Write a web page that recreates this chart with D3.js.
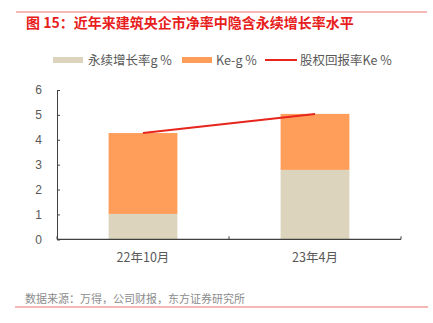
<!DOCTYPE html>
<html><head><meta charset="utf-8">
<script src="https://cdn.jsdelivr.net/npm/d3@7"></script>
<style>body{margin:0;background:#fff;}svg{display:block;font-family:"Liberation Sans","Noto Sans CJK SC",sans-serif;}</style>
</head><body>
<script>
const categories = ["22年10月", "23年4月"];
const gValues = [1.02, 2.79];
const keMinusG = [3.25, 2.25];
const keValues = [4.27, 5.04];
const yTicks = [0, 1, 2, 3, 4, 5, 6];
const legendLabels = ["永续增长率g %", "Ke-g %", "股权回报率Ke %"];
const titleText = "图 15：近年来建筑央企市净率中隐含永续增长率水平";
const sourceText = "数据来源：万得，公司财报，东方证券研究所";

const W = 433, H = 323;
const svg = d3.select("body").append("svg").attr("width", W).attr("height", H);
const cjk = '"Noto Sans CJK SC", sans-serif';

svg.append("line").attr("x1", 16).attr("x2", 427).attr("y1", 12).attr("y2", 12)
  .attr("stroke", "#e8706a").attr("stroke-width", 1);
svg.append("text").attr("x", 26).attr("y", 27.5).text(titleText)
  .attr("fill", "#e8201c").attr("font-size", 14).attr("font-weight", "bold").style("font-family", cjk);

const x = d3.scaleBand().domain(categories).range([57, 401]).paddingInner(0.6).paddingOuter(0.3);
const y = d3.scaleLinear().domain([0, 6]).range([239.3, 90]);

// legend
const lg = svg.append("g").attr("font-size", 12.5).attr("fill", "#595959").style("font-family", cjk);
lg.append("rect").attr("x", 53).attr("y", 57).attr("width", 30).attr("height", 6).attr("fill", "#ddd4bd");
lg.append("text").attr("x", 88).attr("y", 64.5).text(legendLabels[0]);
lg.append("rect").attr("x", 182).attr("y", 57).attr("width", 30).attr("height", 6).attr("fill", "#ff9d5a");
lg.append("text").attr("x", 216).attr("y", 64.5).text(legendLabels[1]);
lg.append("line").attr("x1", 265).attr("x2", 297).attr("y1", 60).attr("y2", 60).attr("stroke", "#e8251c").attr("stroke-width", 2);
lg.append("text").attr("x", 300).attr("y", 64.5).text(legendLabels[2]);

// bars
const data = categories.map((c, i) => ({c, g: gValues[i], kg: keMinusG[i], ke: keValues[i]}));
svg.selectAll(".bg").data(data).enter().append("rect")
  .attr("x", d => x(d.c)).attr("width", x.bandwidth())
  .attr("y", d => y(d.g)).attr("height", d => y(0) - y(d.g)).attr("fill", "#ddd4bd");
svg.selectAll(".bk").data(data).enter().append("rect")
  .attr("x", d => x(d.c)).attr("width", x.bandwidth())
  .attr("y", d => y(d.g + d.kg)).attr("height", d => y(d.g) - y(d.g + d.kg)).attr("fill", "#ff9d5a");

// line
const line = d3.line().x(d => x(d.c) + x.bandwidth() / 2).y(d => y(d.ke));
svg.append("path").datum(data).attr("d", line).attr("fill", "none")
  .attr("stroke", "#e8251c").attr("stroke-width", 2);

// y axis
const ya = svg.append("g").attr("transform", "translate(57,0)")
  .call(d3.axisLeft(y).tickValues(yTicks).tickFormat(d3.format("d")).tickSizeInner(-3).tickSizeOuter(-3).tickPadding(15));
ya.select(".domain").attr("stroke", "#404040");
ya.selectAll(".tick line").attr("stroke", "#404040");
ya.selectAll("text").attr("fill", "#595959").attr("font-size", 12).style("font-family", '"Liberation Sans", sans-serif');

// x axis
const xa = svg.append("g").attr("transform", "translate(0,239.3)");
xa.append("line").attr("x1", 57).attr("x2", 401).attr("y1", 0).attr("y2", 0).attr("stroke", "#404040").attr("stroke-width", 1.3);
const bounds = [57, (57 + 401) / 2, 401];
xa.selectAll(".xt").data(bounds).enter().append("line")
  .attr("x1", d => d).attr("x2", d => d).attr("y1", 0).attr("y2", -3).attr("stroke", "#404040");
xa.selectAll(".xl").data(categories).enter().append("text")
  .attr("x", d => x(d) + x.bandwidth() / 2).attr("y", 23).attr("text-anchor", "middle")
  .attr("font-size", 12.5).attr("fill", "#595959").style("font-family", cjk).text(d => d);

svg.append("text").attr("x", 25).attr("y", 303).text(sourceText)
  .attr("font-size", 11).attr("fill", "#8c8c8c").style("font-family", cjk);
svg.append("line").attr("x1", 15).attr("x2", 428).attr("y1", 307).attr("y2", 307)
  .attr("stroke", "#e8706a").attr("stroke-width", 1);
</script>
</body></html>
